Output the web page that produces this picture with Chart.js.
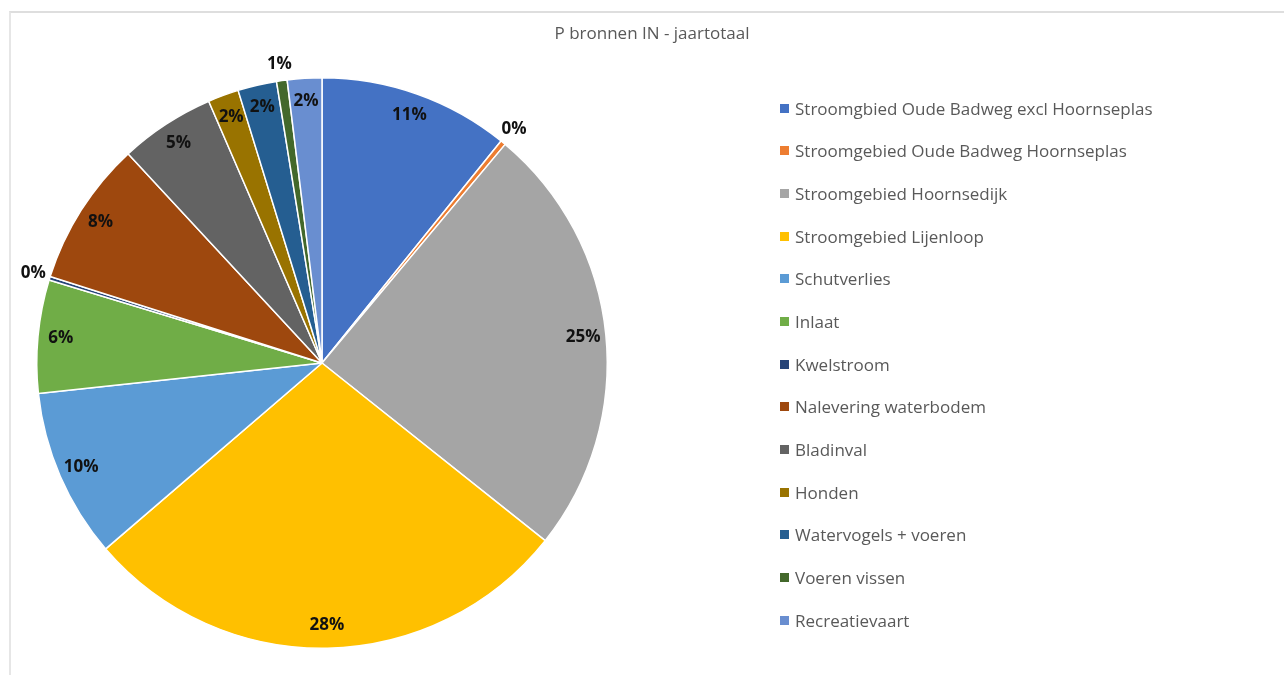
<!DOCTYPE html>
<html>
<head>
<meta charset="utf-8">
<script src="https://cdn.jsdelivr.net/npm/chart.js@4.4.1/dist/chart.umd.min.js"></script>
<style>
  html, body { margin: 0; padding: 0; background: #fff; }
  body { width: 1284px; height: 675px; position: relative; overflow: hidden; font-family: "Open Sans", sans-serif; }
  .frame { position: absolute; left: 9px; top: 11px; right: -5px; bottom: -5px; border-top: 2px solid #dedede; border-left: 2px solid #e6e6e6; }
  #wrap { position: absolute; left: 0; top: 0; width: 1284px; height: 675px; }
  .title { position: absolute; left: 10px; right: -10px; top: 21px; text-align: center; font-size: 17px; color: #595959; }
  #legend { position: absolute; left: 780px; top: 87px; margin: 0; padding: 0; list-style: none; }
  #legend li { height: 42.67px; display: flex; align-items: center; font-size: 17px; color: #595959; white-space: nowrap; }
  #legend .box { width: 9px; height: 9px; margin-right: 6px; flex: none; }
</style>
</head>
<body>
<div class="frame"></div>
<div id="wrap"><canvas id="chart"></canvas></div>
<div class="title">P bronnen IN - jaartotaal</div>
<ul id="legend"></ul>
<script>
const categories = [
  'Stroomgbied Oude Badweg excl Hoornseplas',
  'Stroomgebied Oude Badweg Hoornseplas',
  'Stroomgebied Hoornsedijk',
  'Stroomgebied Lijenloop',
  'Schutverlies',
  'Inlaat',
  'Kwelstroom',
  'Nalevering waterbodem',
  'Bladinval',
  'Honden',
  'Watervogels + voeren',
  'Voeren vissen',
  'Recreatievaart'
];
// share of yearly total, percent
const shares = [10.8, 0.3, 24.6, 28.0, 9.6, 6.4, 0.2, 8.2, 5.4, 1.75, 2.2, 0.6, 1.95];
const colors = ['#4472C4', '#ED7D31', '#A5A5A5', '#FFC000', '#5B9BD5', '#70AD47',
  '#264478', '#9E480E', '#636363', '#997300', '#255E91', '#43682B', '#698ED0'];

// percentage labels: inside near the rim, small slices just outside
const sliceLabels = {
  id: 'sliceLabels',
  afterDatasetsDraw(chart) {
    const ctx = chart.ctx;
    const meta = chart.getDatasetMeta(0);
    const total = shares.reduce((a, b) => a + b, 0);
    ctx.save();
    ctx.font = 'bold 17px "Open Sans", sans-serif';
    ctx.fillStyle = '#111111';
    ctx.textAlign = 'center';
    ctx.textBaseline = 'middle';
    meta.data.forEach((arc, i) => {
      const p = arc.getProps(['x', 'y', 'startAngle', 'endAngle', 'outerRadius'], true);
      const mid = (p.startAngle + p.endAngle) / 2;
      const pct = shares[i] / total * 100;
      const r = pct < 1 ? p.outerRadius + 17 : p.outerRadius * 0.92;
      ctx.fillText(Math.round(pct) + '%', p.x + Math.cos(mid) * r, p.y + Math.sin(mid) * r);
    });
    ctx.restore();
  }
};

const htmlLegend = {
  id: 'htmlLegend',
  afterUpdate(chart) {
    const ul = document.getElementById('legend');
    ul.innerHTML = '';
    chart.data.labels.forEach((label, i) => {
      const li = document.createElement('li');
      const box = document.createElement('span');
      box.className = 'box';
      box.style.background = chart.data.datasets[0].backgroundColor[i];
      li.appendChild(box);
      li.appendChild(document.createTextNode(label));
      ul.appendChild(li);
    });
  }
};

const chart = new Chart(document.getElementById('chart'), {
  type: 'pie',
  data: {
    labels: categories,
    datasets: [{
      data: shares,
      backgroundColor: colors,
      borderColor: '#ffffff',
      borderWidth: 1.5
    }]
  },
  options: {
    responsive: true,
    maintainAspectRatio: false,
    animation: false,
    layout: { padding: { left: 36, top: 77, right: 676, bottom: 26 } },
    plugins: {
      legend: { display: false },
      title: { display: false },
      tooltip: { enabled: false }
    }
  },
  plugins: [sliceLabels, htmlLegend]
});
</script>
</body>
</html>
